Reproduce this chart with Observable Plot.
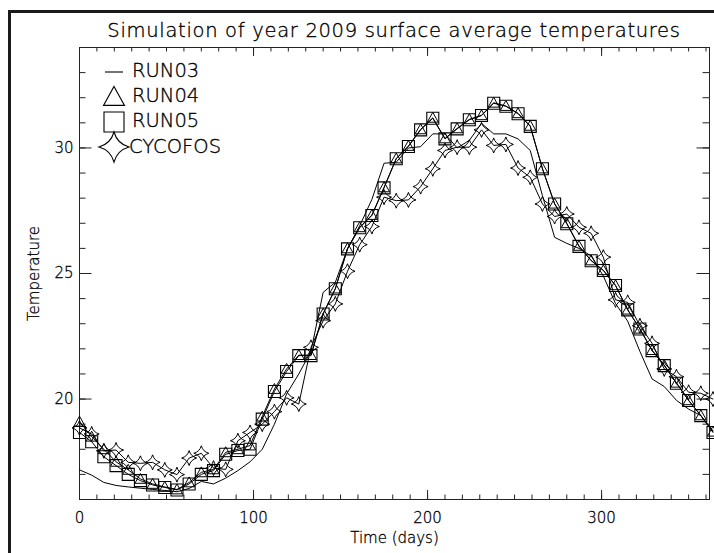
<!DOCTYPE html>
<html><head><meta charset="utf-8">
<script src="https://cdn.jsdelivr.net/npm/d3@7"></script>
<script src="https://cdn.jsdelivr.net/npm/@observablehq/plot@0.6"></script>
<style>
body{margin:0;background:#fff;}
#wrap{position:relative;width:714px;height:553px;overflow:hidden;font-family:"DejaVu Sans",sans-serif;font-weight:200;color:#000;}
#border{position:absolute;left:8px;top:10px;width:900px;height:900px;border-left:3px solid #1a1a1a;border-top:3px solid #1a1a1a;}
#title{position:absolute;left:79px;width:630px;top:19px;text-align:center;font-size:19.5px;letter-spacing:0.7px;white-space:nowrap;-webkit-text-stroke:0.35px #000;}
#chart{position:absolute;left:0;top:0;}
#chart svg text{stroke:#000;stroke-width:0.3px;}
.leg{position:absolute;font-size:19.5px;white-space:nowrap;line-height:1;-webkit-text-stroke:0.35px #000;}
.legsym{position:absolute;overflow:visible;}
</style></head>
<body>
<div id="wrap">
  <div id="border"></div>
  <div id="chart"></div>
  <div id="title">Simulation of year 2009 surface average temperatures</div>
  <div id="legend"></div>
</div>
<script>
// ---- data (weekly samples, day of year) ----
const days = [0,7,14,21,28,35,42,49,56,63,70,77,84,91,98,105,112,119,126,133,140,147,154,161,168,175,182,189,196,203,210,217,224,231,238,245,252,259,266,273,280,287,294,301,308,315,322,329,336,343,350,357,364];
const run03 = [17.18,16.97,16.68,16.56,16.50,16.45,16.40,16.36,16.31,16.44,16.72,16.62,16.85,17.15,17.50,18.0,19.0,20.2,21.0,21.9,24.25,24.65,25.98,26.9,27.95,29.39,29.43,30.0,30.05,30.56,30.56,30.0,30.3,30.98,30.56,30.56,30.36,29.9,28.1,26.44,26.2,26.0,25.7,24.9,23.8,23.1,21.9,20.8,20.5,19.95,19.6,19.34,18.74];
const run04 = [19.10,18.50,18.00,17.50,17.18,16.82,16.62,16.50,16.40,16.68,17.08,17.20,17.88,18.00,18.15,19.3,20.4,21.2,21.75,21.75,23.40,24.40,26.00,26.84,27.33,28.43,29.58,30.08,30.74,31.20,30.38,30.78,31.14,31.30,31.80,31.67,31.38,30.88,29.18,27.78,27.00,26.10,25.52,25.13,24.53,23.56,22.80,21.95,21.35,20.65,19.95,19.35,18.70];
const run05 = [18.67,18.30,17.70,17.35,17.00,16.75,16.58,16.48,16.38,16.62,17.00,17.15,17.80,17.95,18.00,19.2,20.3,21.1,21.73,21.73,23.39,24.39,25.98,26.82,27.31,28.41,29.57,30.06,30.72,31.18,30.36,30.76,31.12,31.29,31.78,31.66,31.36,30.86,29.17,27.77,26.98,26.08,25.51,25.12,24.52,23.55,22.79,21.93,21.33,20.63,19.94,19.34,18.67];
const cycofos = [18.85,18.61,17.94,17.97,17.48,17.44,17.48,17.18,16.99,17.65,17.84,17.25,17.20,18.34,18.67,19.0,19.5,20.05,19.8,22.06,23.12,23.79,25.09,26.15,26.87,28.04,27.90,27.93,28.46,29.17,29.90,30.03,30.03,30.72,30.10,30.14,29.20,28.83,27.77,27.27,27.37,26.84,26.60,25.65,23.95,23.85,22.92,22.22,21.20,20.89,20.27,20.23,20.00];
const seriesNames = ["RUN03","RUN04","RUN05","CYCOFOS"];
const xTicksMajor = [0,100,200,300];
const yTicksMajor = [20,25,30];
const xTicksMinor = [0,10,20,30,40,50,60,70,80,90,100,110,120,130,140,150,160,170,180,190,200,210,220,230,240,250,260,270,280,290,300,310,320,330,340,350,360];
const yTicksMinor = [16,17,18,19,20,21,22,23,24,25,26,27,28,29,30,31,32,33,34];
const xTitle = "Time (days)";
const yTitle = "Temperature";

const table = (vals) => days.map((d,i)=>({day:d, t:vals[i]}));
const d03 = table(run03), d04 = table(run04), d05 = table(run05), dcy = table(cycofos);

// ---- symbols ----
const sqSym = {draw(ctx,size){const r=Math.sqrt(size/Math.PI);ctx.moveTo(-r,-r);ctx.lineTo(r,-r);ctx.lineTo(r,r);ctx.lineTo(-r,r);ctx.closePath();}};
const triSym = {draw(ctx,size){const r=Math.sqrt(size/Math.PI);ctx.moveTo(0,-r);ctx.lineTo(r,r*0.8);ctx.lineTo(-r,r*0.8);ctx.closePath();}};
const starSym = {draw(ctx,size){const r=Math.sqrt(size/Math.PI);const c=r*0.22;
  ctx.moveTo(0,-r);ctx.quadraticCurveTo(c,-c,r,0);ctx.quadraticCurveTo(c,c,0,r);ctx.quadraticCurveTo(-c,c,-r,0);ctx.quadraticCurveTo(-c,-c,0,-r);ctx.closePath();}};

const W = 714, H = 553, mL = 79, mR = 5, mT = 47, mB = 54;
const innerW = W - mL - mR, innerH = H - mT - mB;
const axStroke = "#222";
const tx = {x: d => d, stroke: axStroke, strokeWidth: 1};
const ty = {y: d => d, stroke: axStroke, strokeWidth: 1};

const chart = Plot.plot({
  width: W, height: H,
  marginLeft: mL, marginRight: mR, marginTop: mT, marginBottom: mB,
  style: {fontFamily: '"DejaVu Sans", sans-serif', fontWeight: 200, fontSize: "15px", color: "#000", background: "transparent", overflow: "visible"},
  x: {domain: [0, 362]},
  y: {domain: [16, 34]},
  marks: [
    Plot.frame({stroke: axStroke, strokeWidth: 1}),
    // inward ticks on all four sides
    Plot.tickX(xTicksMinor, {...tx, insetTop: innerH - 4.5}),
    Plot.tickX(xTicksMajor, {...tx, insetTop: innerH - 9}),
    Plot.tickX(xTicksMinor, {...tx, insetBottom: innerH - 4.5}),
    Plot.tickX(xTicksMajor, {...tx, insetBottom: innerH - 9}),
    Plot.tickY(yTicksMinor, {...ty, insetRight: innerW - 6.5}),
    Plot.tickY(yTicksMajor, {...ty, insetRight: innerW - 12.5}),
    Plot.tickY(yTicksMinor, {...ty, insetLeft: innerW - 6.5}),
    Plot.tickY(yTicksMajor, {...ty, insetLeft: innerW - 12.5}),
    // tick labels and axis titles
    Plot.axisX({anchor: "bottom", ticks: xTicksMajor, tickSize: 0, tickPadding: 13, label: xTitle, labelAnchor: "center", labelOffset: 43, labelArrow: "none"}),
    Plot.axisY({anchor: "left", ticks: yTicksMajor, tickSize: 0, tickPadding: 6, label: yTitle, labelAnchor: "center", labelOffset: 51, labelArrow: "none"}),
    // series
    Plot.line(d03, {x: "day", y: "t", stroke: "#000", strokeWidth: 1}),
    Plot.line(d04, {x: "day", y: "t", stroke: "#000", strokeWidth: 1}),
    Plot.line(d05, {x: "day", y: "t", stroke: "#000", strokeWidth: 1}),
    Plot.line(dcy, {x: "day", y: "t", stroke: "#000", strokeWidth: 1}),
    Plot.dot(d04, {x: "day", y: "t", symbol: triSym, r: 5.5, stroke: "#000", strokeWidth: 1, fill: "none"}),
    Plot.dot(d05, {x: "day", y: "t", symbol: sqSym, r: 6, stroke: "#000", strokeWidth: 1.1, fill: "none"}),
    Plot.dot(dcy, {x: "day", y: "t", symbol: starSym, r: 7.5, stroke: "#000", strokeWidth: 1, fill: "none"})
  ]
});
document.getElementById("chart").appendChild(chart);

// ---- legend (HTML overlay) ----
const legend = document.getElementById("legend");
const legendSyms = [null, triSym, sqSym, starSym];
const legendR = [0, 10.5, 10, 15];
const rowY = [71.5, 96.5, 121.5, 147];
const textX = [132, 132, 132, 129];
seriesNames.forEach((name, i) => {
  const svg = d3.create("svg").attr("class","legsym").attr("width",40).attr("height",40)
    .style("left", (114-20)+"px").style("top", (rowY[i]-20)+"px");
  if (legendSyms[i] === null) {
    svg.append("path").attr("d","M11,20H29").attr("stroke","#000").attr("stroke-width",1.1);
  } else {
    const r = legendR[i];
    svg.append("path").attr("transform","translate(20,20)")
      .attr("d", d3.symbol(legendSyms[i], Math.PI*r*r)())
      .attr("fill","none").attr("stroke","#000").attr("stroke-width",1.1);
  }
  legend.appendChild(svg.node());
  const t = document.createElement("div");
  t.className = "leg"; t.textContent = name;
  t.style.left = textX[i] + "px"; t.style.top = (rowY[i] - 10.5) + "px";
  legend.appendChild(t);
});
</script>
</body></html>
